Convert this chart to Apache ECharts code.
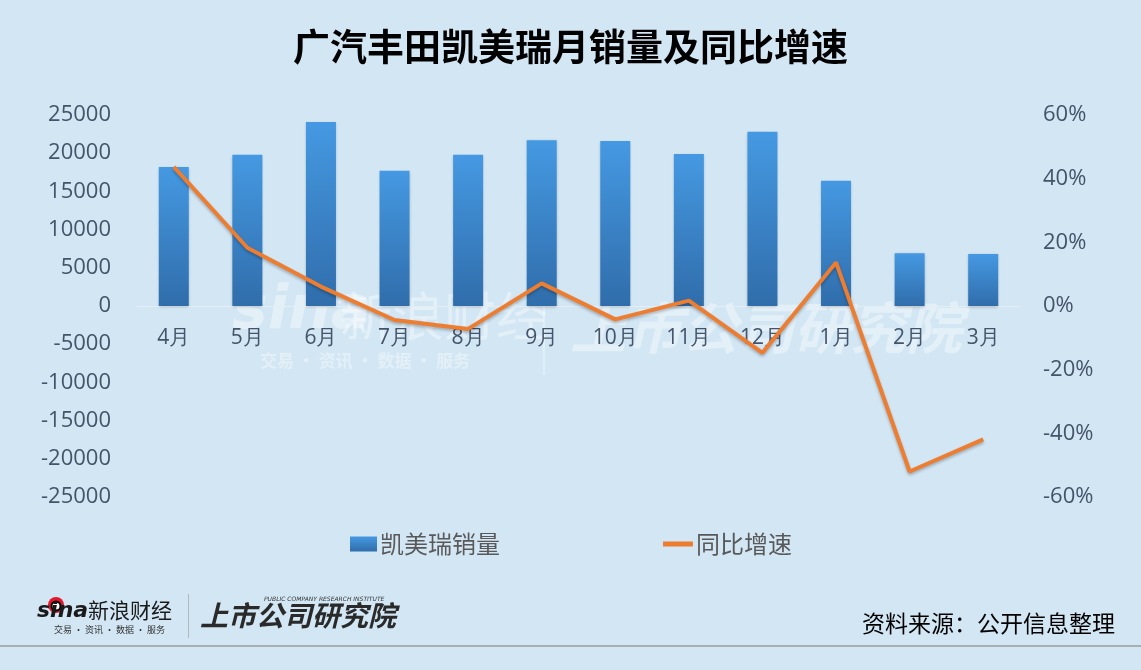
<!DOCTYPE html>
<html>
<head>
<meta charset="utf-8">
<script src="https://cdn.jsdelivr.net/npm/echarts@6/dist/echarts.min.js"></script>
<style>
html,body{margin:0;padding:0;background:#d2e6f4;}
#c{width:1141px;height:670px;}
</style>
</head>
<body>
<div id="c"></div>
<script>
var categories = ['4月','5月','6月','7月','8月','9月','10月','11月','12月','1月','2月','3月'];
var sales = [18200, 19800, 24100, 17700, 19800, 21700, 21600, 19900, 22800, 16400, 6900, 6800];
var growth = [0.437, 0.183, 0.061, -0.044, -0.072, 0.071, -0.042, 0.017, -0.147, 0.137, -0.52, -0.419];
var leftTicks = {min: -25000, max: 25000, interval: 5000};
var rightTicks = {min: -0.6, max: 0.6, interval: 0.2};

var chart = echarts.init(document.getElementById('c'), null, {renderer: 'canvas'});
var axisColor = '#44546a';
var cjk = '"Noto Sans CJK SC", "Noto Sans", sans-serif';
var option = {
  backgroundColor: '#d2e6f4',
  animation: false,
  grid: {left: 137, right: 121, top: 115, bottom: 173},
  legend: [{
    left: 345, top: 527, itemWidth: 27, itemHeight: 15, itemGap: 4,
    data: [{name: '凯美瑞销量', icon: 'rect'}],
    textStyle: {fontSize: 24, color: '#595959', fontFamily: cjk, padding: [0,0,0,-2]}
  }, {
    left: 658, top: 527, itemWidth: 30, itemHeight: 5,
    data: [{name: '同比增速', icon: 'rect'}],
    textStyle: {fontSize: 24, color: '#595959', fontFamily: cjk, padding: [0,0,0,-2]}
  }],
  xAxis: {
    type: 'category', data: categories,
    offset: -191,
    axisLine: {onZero: false, lineStyle: {color: '#e6eef5', width: 1}},
    axisTick: {show: false},
    axisLabel: {fontSize: 21, color: axisColor, fontFamily: '"Open Sans", sans-serif', margin: 22}
  },
  yAxis: [{
    type: 'value', min: leftTicks.min, max: leftTicks.max, interval: leftTicks.interval,
    axisLine: {show: false}, axisTick: {show: false}, splitLine: {show: false},
    axisLabel: {fontSize: 22, color: axisColor, fontFamily: '"Open Sans", sans-serif', margin: 26,
      formatter: function (v) { return String(v); }}
  }, {
    type: 'value', min: rightTicks.min, max: rightTicks.max, interval: rightTicks.interval,
    axisLine: {show: false}, axisTick: {show: false}, splitLine: {show: false},
    axisLabel: {fontSize: 22, color: axisColor, fontFamily: '"Open Sans", sans-serif', margin: 23,
      formatter: function (v) { return Math.round(v * 100) + '%'; }}
  }],
  series: [{
    name: '凯美瑞销量', type: 'bar', data: sales, barWidth: 30, yAxisIndex: 0, z: 3,
    itemStyle: {
      color: new echarts.graphic.LinearGradient(0, 0, 0, 1, [
        {offset: 0, color: '#4599e2'}, {offset: 1, color: '#306dab'}
      ]),
      shadowColor: 'rgba(0,0,0,0.25)', shadowBlur: 3, shadowOffsetY: 1
    }
  }, {
    name: '同比增速', type: 'line', data: growth, yAxisIndex: 1,
    symbol: 'none', z: 5,
    lineStyle: {color: '#ed7d31', width: 4, shadowColor: 'rgba(0,0,0,0.25)', shadowBlur: 3, shadowOffsetY: 2},
    itemStyle: {color: '#ed7d31'}
  }],
  graphic: [
    {type: 'text', left: 'center', top: 28, style: {text: '广汽丰田凯美瑞月销量及同比增速', font: 'bold 37px ' + cjk, fill: '#000'}},
    // watermark
    {type: 'group', z: 1, children: [
      {type: 'text', left: 232, top: 282, style: {text: 'sina', font: 'italic bold 60px "DejaVu Sans", sans-serif', fill: 'rgba(255,255,255,0.4)'}},
      {type: 'text', left: 340, top: 290, style: {text: '新浪财经', font: '52px ' + cjk, fill: 'rgba(255,255,255,0.4)'}},
      {type: 'text', left: 260, top: 352, style: {text: '交易 · 资讯 · 数据 · 服务', font: 'bold 17px ' + cjk, fill: 'rgba(255,255,255,0.4)'}},
      {type: 'rect', left: 543, top: 305, shape: {width: 2, height: 70}, style: {fill: 'rgba(255,255,255,0.35)'}},
      {type: 'text', left: 570, top: 300, style: {text: '上市公司研究院', font: 'italic bold 56px ' + cjk, fill: 'rgba(255,255,255,0.4)'}}
    ]},
    // footer logo
    {type: 'circle', shape: {cx: 56, cy: 605, r: 8}, style: {fill: '#e6162d'}},
    {type: 'circle', shape: {cx: 56, cy: 606, r: 4.5}, style: {fill: '#fff', stroke: '#000', lineWidth: 2}},
    {type: 'text', left: 37, top: 600, style: {text: 'sina', font: 'italic bold 22px "DejaVu Sans", sans-serif', fill: '#1a1a1a'}},
    {type: 'text', left: 88, top: 600, style: {text: '新浪财经', font: '21px ' + cjk, fill: '#1a1a1a'}},
    {type: 'text', left: 54, top: 625, style: {text: '交易 · 资讯 · 数据 · 服务', font: '9px ' + cjk, fill: '#333'}},
    {type: 'rect', left: 188, top: 594, shape: {width: 1, height: 44}, style: {fill: '#b0b8c0'}},
    {type: 'text', left: 200, top: 601, style: {text: '上市公司研究院', font: 'italic bold 28px ' + cjk, fill: '#2a2a2a'}},
    {type: 'text', left: 264, top: 596, style: {text: 'PUBLIC COMPANY RESEARCH INSTITUTE', font: 'italic 6px "DejaVu Sans", sans-serif', fill: '#333'}},
    {type: 'text', right: 26, top: 612, style: {text: '资料来源：公开信息整理', font: '23px ' + cjk, fill: '#000'}},
    {type: 'rect', left: 0, top: 645, shape: {width: 1141, height: 2}, style: {fill: '#a9afb5'}}
  ]
};
chart.setOption(option);
</script>
</body>
</html>
